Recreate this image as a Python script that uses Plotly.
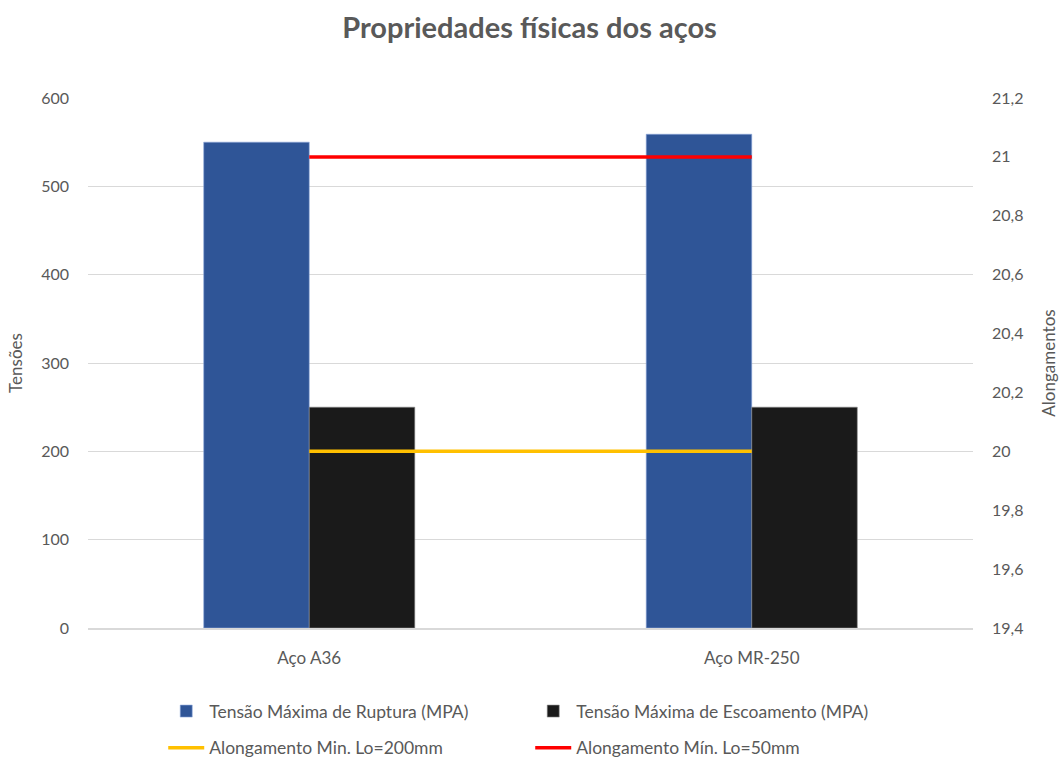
import plotly.graph_objects as go

# Steel grades and their mechanical properties
categorias = ["Aço A36", "Aço MR-250"]
ruptura = [550, 559]          # Tensão Máxima de Ruptura (MPA)
escoamento = [250, 250]       # Tensão Máxima de Escoamento (MPA)
along_200 = [20, 20]          # Alongamento Min. Lo=200mm (%)
along_50 = [21, 21]           # Alongamento Mín. Lo=50mm (%)

FONT = "Lato"
GRAY = "#595959"

fig = go.Figure()

fig.add_trace(go.Bar(
    x=categorias, y=ruptura, name="Tensão Máxima de Ruptura (MPA)",
    marker=dict(color="#2F5597", line=dict(color="#8EA9DB", width=0.6)),
    legend="legend",
))
fig.add_trace(go.Bar(
    x=categorias, y=escoamento, name="Tensão Máxima de Escoamento (MPA)",
    marker=dict(color="#1A1A1A", line=dict(color="#8C8C8C", width=0.6)),
    legend="legend",
))
fig.add_trace(go.Scatter(
    x=categorias, y=along_200, name="Alongamento Min. Lo=200mm",
    mode="lines", line=dict(color="#FFC000", width=3.5),
    yaxis="y2", legend="legend2",
))
fig.add_trace(go.Scatter(
    x=categorias, y=along_50, name="Alongamento Mín. Lo=50mm",
    mode="lines", line=dict(color="#FF0000", width=3.5),
    yaxis="y2", legend="legend2",
))

legend_common = dict(
    orientation="h", xanchor="left", x=0.085, yanchor="middle",
    entrywidth=316, entrywidthmode="pixels",
    font=dict(family=FONT, size=17.5, color=GRAY),
    bgcolor="rgba(0,0,0,0)", itemwidth=36,
)

fig.update_layout(
    width=1059, height=758,
    separators=",.",
    paper_bgcolor="white", plot_bgcolor="white",
    margin=dict(l=88, r=86, t=98, b=130, autoexpand=False),
    barmode="group", bargap=0.523, bargroupgap=0,
    title=dict(
        text="<b>Propriedades físicas dos aços</b>",
        x=0.5, xanchor="center", y=0.963, yanchor="middle",
        font=dict(family=FONT, size=29, color=GRAY),
    ),
    font=dict(family=FONT, size=16, color=GRAY),
    xaxis=dict(
        showgrid=False, showline=True, linecolor="#D9D9D9", linewidth=1.5,
        ticks="", tickfont=dict(family=FONT, size=17, color=GRAY),
        ticklabelstandoff=14,
    ),
    yaxis=dict(
        range=[0, 600], dtick=100, showgrid=True, gridcolor="#D9D9D9",
        gridwidth=1, zeroline=False, showline=False, ticks="",
        ticklabelstandoff=18,
        tickfont=dict(family=FONT, size=16, color=GRAY),
        title=dict(text="Tensões", font=dict(family=FONT, size=17, color=GRAY),
                   standoff=14),
    ),
    yaxis2=dict(
        overlaying="y", side="right", range=[19.4, 21.2], dtick=0.2,
        showgrid=False, zeroline=False, showline=False, ticks="",
        ticklabelstandoff=18,
        tickfont=dict(family=FONT, size=16, color=GRAY),
        title=dict(text="Alongamentos", font=dict(family=FONT, size=17, color=GRAY),
                   standoff=20),
    ),
    legend=dict(y=-0.157, **legend_common),
    legend2=dict(y=-0.226, **legend_common),
)

fig.write_html("out.html")
